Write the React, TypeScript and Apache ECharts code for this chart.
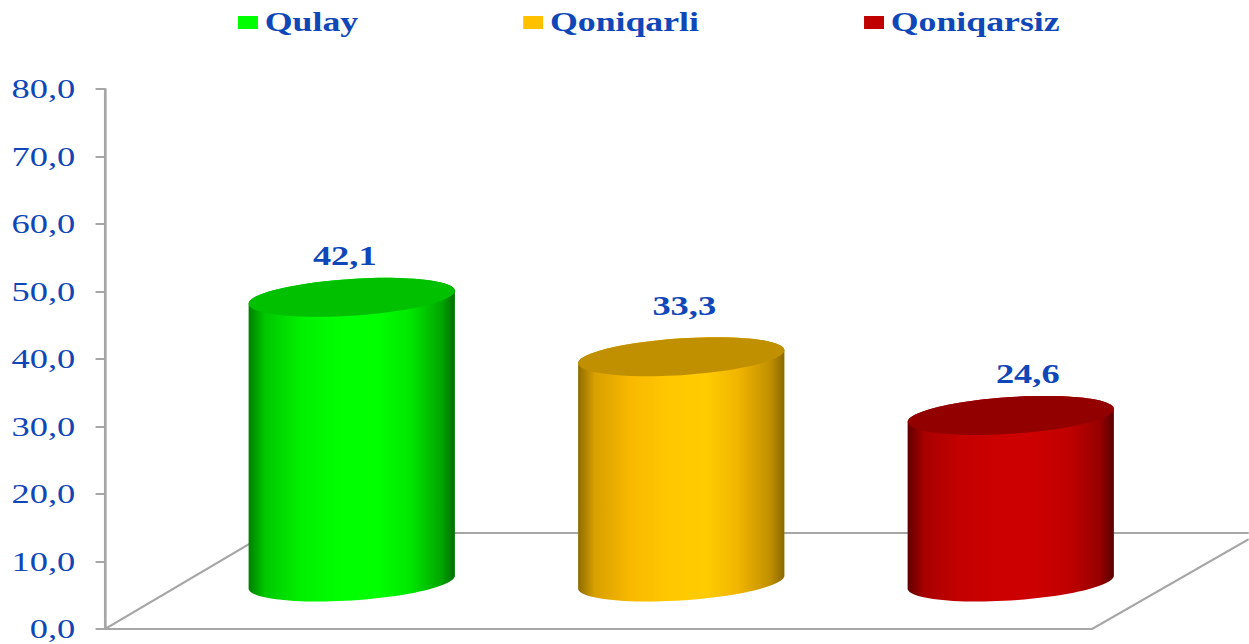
import React, { useEffect, useRef } from "react";
import * as echarts from "echarts";

const categories = ["Qulay", "Qoniqarli", "Qoniqarsiz"];
const values = [42.1, 33.3, 24.6];
const capColors = ["#00c000", "#c09000", "#920000"];
const legendColors = ["#00ff00", "#ffc000", "#c00000"];
const sideStops = [
  ["#008000", "#00c800", "#00f000", "#00ff00", "#00ff00", "#00e800", "#00a800", "#007000"],
  ["#8f6c00", "#d8a000", "#f8b800", "#ffc800", "#ffcc00", "#f0b400", "#c09000", "#8a6800"],
  ["#600000", "#a80000", "#c40000", "#cc0000", "#cc0000", "#c00000", "#980000", "#580000"],
];
const stopOffsets = [0, 0.08, 0.25, 0.45, 0.62, 0.78, 0.93, 1];

// The whole drawing is horizontally stretched in the reference.
const SX = 1.35;
const W = 1249;
const H = 644;
const BLUE = "#0f47b8";
const SERIF = "'Liberation Serif', 'Times New Roman', serif";
const TOP_LIFT = 47.5;
const BASE_LIFT = 47;
const LABEL_DX = [-7, 3, 17];
const LABEL_DY = [-42, -51, -42];

const sx = (x: number) => x / SX;

function ellipsePts(cx: number, cy: number, a: number, from: number, to: number) {
  const b = 18.4;
  const s = 0.063;
  const pts: number[][] = [];
  const n = 48;
  for (let i = 0; i <= n; i++) {
    const t = from + ((to - from) * i) / n;
    pts.push([cx + a * Math.cos(t), cy + b * Math.sin(t) - s * SX * a * Math.cos(t)]);
  }
  return pts;
}

function makeRenderer(idx: number) {
  return (_: any, api: any) => {
    const c = api.value(0);
    const v = api.value(1);
    const top = api.coord([c, v]);
    const base = api.coord([c, 0]);
    const a = api.size([1, 0])[0] * 0.313;
    const cx = top[0];
    const yT = top[1] - TOP_LIFT;
    const yB = base[1] - BASE_LIFT;
    const stops = sideStops[idx];
    const body = [
      ...ellipsePts(cx, yT, a, Math.PI, 2 * Math.PI),
      ...ellipsePts(cx, yB, a, 0, Math.PI),
    ];
    return {
      type: "group",
      children: [
        {
          type: "polygon",
          shape: { points: body },
          style: {
            fill: new echarts.graphic.LinearGradient(
              0,
              0,
              1,
              0,
              stops.map((color, k) => ({ offset: stopOffsets[k], color }))
            ),
          },
        },
        {
          type: "polygon",
          shape: { points: ellipsePts(cx, yT, a, 0, 2 * Math.PI) },
          style: { fill: capColors[idx] },
        },
        {
          type: "text",
          x: cx + sx(LABEL_DX[idx]),
          y: yT + LABEL_DY[idx],
          style: {
            text: v.toFixed(1).replace(".", ","),
            fill: BLUE,
            font: `bold 27px ${SERIF}`,
            textAlign: "center",
            textVerticalAlign: "middle",
          },
        },
      ],
    };
  };
}

const floorColor = "#a6a6a6";

export default function App() {
  const ref = useRef<HTMLDivElement>(null);

  useEffect(() => {
    document.body.style.margin = "0";
    document.documentElement.style.overflow = "hidden";
    const chart = echarts.init(ref.current!, null, { renderer: "svg" });
    chart.setOption({
      animation: false,
      backgroundColor: "#ffffff",
      legend: {
        left: sx(238),
        top: 9,
        padding: 0,
        itemWidth: sx(20),
        itemHeight: 13,
        itemGap: sx(165),
        selectedMode: false,
        icon: "rect",
        data: categories,
        textStyle: {
          color: BLUE,
          fontFamily: SERIF,
          fontWeight: "bold",
          fontSize: 26.5,
          padding: [0, 0, 0, 0],
        },
      },
      grid: { left: sx(187), width: sx(988.5), top: 89, height: 540 },
      xAxis: {
        type: "category",
        data: categories,
        axisLine: { show: false },
        axisTick: { show: false },
        axisLabel: { show: false },
      },
      yAxis: {
        type: "value",
        min: 0,
        max: 80,
        interval: 10,
        offset: sx(82),
        splitLine: { show: false },
        axisLine: { show: true, lineStyle: { color: floorColor, width: 2 } },
        axisTick: { show: true, length: 7, lineStyle: { color: floorColor, width: 2 } },
        axisLabel: {
          color: BLUE,
          fontFamily: SERIF,
          fontSize: 27,
          margin: 22,
          formatter: (val: number) => val.toFixed(1).replace(".", ","),
        },
      },
      graphic: [
        {
          type: "polyline",
          silent: true,
          z: 0,
          shape: {
            points: [
              [sx(105), 629],
              [sx(268), 533],
              [sx(1249), 533],
            ],
          },
          style: { stroke: floorColor, lineWidth: 2, fill: "none" },
        },
        {
          type: "polyline",
          silent: true,
          z: 0,
          shape: {
            points: [
              [sx(105), 629],
              [sx(1092), 629],
              [sx(1249), 539],
            ],
          },
          style: { stroke: floorColor, lineWidth: 2, fill: "none" },
        },
      ],
      series: categories.map((name, i) => ({
        name,
        type: "custom",
        z: 5,
        clip: false,
        itemStyle: { color: legendColors[i] },
        renderItem: makeRenderer(i),
        data: [[i, values[i]]],
      })),
    });
    return () => chart.dispose();
  }, []);

  return (
    <div
      ref={ref}
      style={{
        width: W / SX,
        height: H,
        position: "absolute",
        left: 0,
        top: 0,
        transform: `scaleX(${SX})`,
        transformOrigin: "0 0",
      }}
    />
  );
}
